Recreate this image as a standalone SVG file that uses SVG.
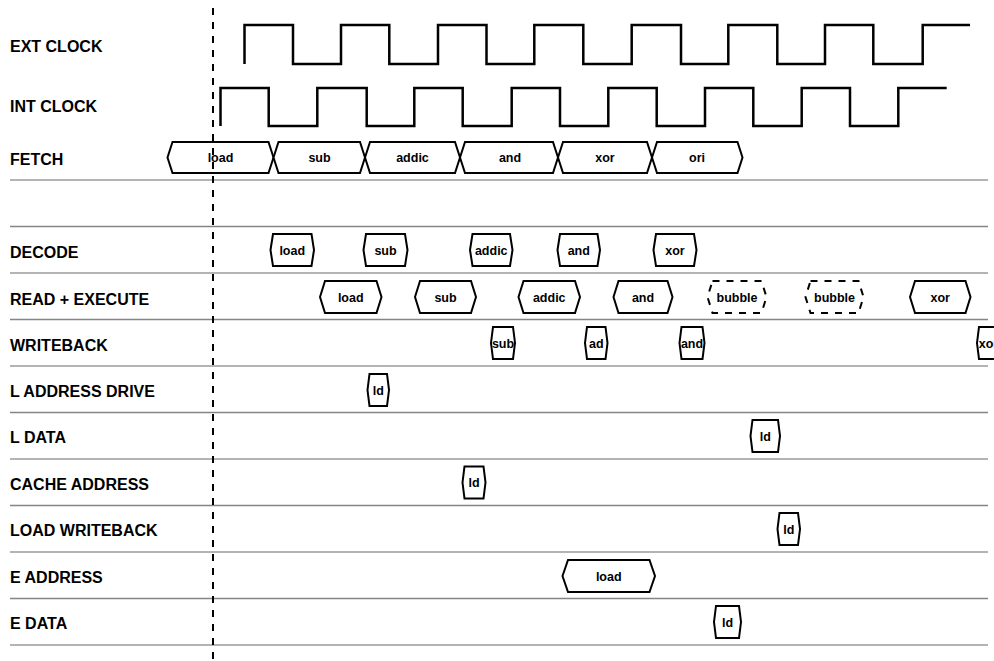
<svg xmlns="http://www.w3.org/2000/svg" width="994" height="661" viewBox="0 0 994 661">
<style>
.lbl{font-family:"Liberation Sans",Arial,sans-serif;font-weight:bold;font-size:16px;fill:#000}
.bt{font-family:"Liberation Sans",Arial,sans-serif;font-weight:bold;font-size:12.5px;fill:#000;text-anchor:middle}
.box{fill:#fff;stroke:#000;stroke-width:2;stroke-linejoin:miter}
.bub{fill:#fff;stroke:#000;stroke-width:2;stroke-dasharray:7 7}
.clk{fill:none;stroke:#000;stroke-width:2.5;stroke-linejoin:miter}
.sepL{stroke:#b4b4b4;stroke-width:2}
.sepD{stroke:#858585;stroke-width:1.5}
</style>
<rect width="994" height="661" fill="#fff"/>
<g id="separators">
<line class="sepL" x1="10" y1="180" x2="988" y2="180"/>
<line class="sepD" x1="10" y1="226.5" x2="988" y2="226.5"/>
<line class="sepL" x1="10" y1="273" x2="988" y2="273"/>
<line class="sepD" x1="10" y1="319.5" x2="988" y2="319.5"/>
<line class="sepL" x1="10" y1="366" x2="988" y2="366"/>
<line class="sepD" x1="10" y1="412.5" x2="988" y2="412.5"/>
<line class="sepL" x1="10" y1="459" x2="988" y2="459"/>
<line class="sepD" x1="10" y1="505.5" x2="988" y2="505.5"/>
<line class="sepL" x1="10" y1="552" x2="988" y2="552"/>
<line class="sepD" x1="10" y1="598.5" x2="988" y2="598.5"/>
<line class="sepL" x1="10" y1="645" x2="988" y2="645"/>
</g>
<g id="labels">
<text class="lbl" x="10" y="51.5">EXT CLOCK</text>
<text class="lbl" x="10" y="111.5">INT CLOCK</text>
<text class="lbl" x="10" y="165">FETCH</text>
<text class="lbl" x="10" y="257.5">DECODE</text>
<text class="lbl" x="10" y="304.5">READ + EXECUTE</text>
<text class="lbl" x="10" y="350.5">WRITEBACK</text>
<text class="lbl" x="10" y="397">L ADDRESS DRIVE</text>
<text class="lbl" x="10" y="443">L DATA</text>
<text class="lbl" x="10" y="489.5">CACHE ADDRESS</text>
<text class="lbl" x="10" y="536">LOAD WRITEBACK</text>
<text class="lbl" x="10" y="582.5">E ADDRESS</text>
<text class="lbl" x="10" y="629">E DATA</text>
</g>
<g id="clocks">
<path id="ext-clock" class="clk" d="M244.5,64 V25 H293 V64 H341 V25 H389.3 V64 H438 V25 H486.5 V64 H534.3 V25 H583.3 V64 H631.7 V25 H681 V64 H728.3 V25 H777.3 V64 H825 V25 H873.3 V64 H922.7 V25 H970"/>
<path id="int-clock" class="clk" d="M220.5,126 V88 H268.7 V126 H317.3 V88 H366.7 V126 H414.3 V88 H462.7 V126 H511.7 V88 H560 V126 H608.3 V88 H656.7 V126 H705 V88 H753.3 V126 H801.7 V88 H850 V126 H898.3 V88 H946.7"/>
</g>
<g id="fetch">
<g id="f-load"><polygon class="box" points="167.5,157.5 172.5,142 268.5,142 273.5,157.5 268.5,173 172.5,173"/><text class="bt" x="220.5" y="162">load</text></g>
<g id="f-sub"><polygon class="box" points="273.5,157.5 278.5,142 360,142 365,157.5 360,173 278.5,173"/><text class="bt" x="319.5" y="162">sub</text></g>
<g id="f-addic"><polygon class="box" points="365,157.5 370,142 455,142 460,157.5 455,173 370,173"/><text class="bt" x="412.5" y="162">addic</text></g>
<g id="f-and"><polygon class="box" points="460,157.5 465,142 553,142 558,157.5 553,173 465,173"/><text class="bt" x="510" y="162">and</text></g>
<g id="f-xor"><polygon class="box" points="558,157.5 563,142 647,142 652,157.5 647,173 563,173"/><text class="bt" x="605" y="162">xor</text></g>
<g id="f-ori"><polygon class="box" points="652,157.5 657,142 737.5,142 742.5,157.5 737.5,173 657,173"/><text class="bt" x="697" y="162">ori</text></g>
</g>
<g id="decode">
<g id="d-load"><polygon class="box" points="270.5,250 273,234 311.5,234 314,250 311.5,266 273,266"/><text class="bt" x="292.25" y="254.5">load</text></g>
<g id="d-sub"><polygon class="box" points="363.5,250 366,234 405,234 407.5,250 405,266 366,266"/><text class="bt" x="385.5" y="254.5">sub</text></g>
<g id="d-addic"><polygon class="box" points="470,250 472.5,234 510,234 512.5,250 510,266 472.5,266"/><text class="bt" x="491.25" y="254.5">addic</text></g>
<g id="d-and"><polygon class="box" points="557.5,250 560,234 597.5,234 600,250 597.5,266 560,266"/><text class="bt" x="578.75" y="254.5">and</text></g>
<g id="d-xor"><polygon class="box" points="653.5,250 656,234 694,234 696.5,250 694,266 656,266"/><text class="bt" x="675" y="254.5">xor</text></g>
</g>
<g id="read-execute">
<g id="r-load"><polygon class="box" points="320,297 325,281 376.5,281 381.5,297 376.5,313 325,313"/><text class="bt" x="350.75" y="301.5">load</text></g>
<g id="r-sub"><polygon class="box" points="415,297 420,281 471,281 476,297 471,313 420,313"/><text class="bt" x="445.5" y="301.5">sub</text></g>
<g id="r-addic"><polygon class="box" points="518.5,297 523.5,281 575,281 580,297 575,313 523.5,313"/><text class="bt" x="549.25" y="301.5">addic</text></g>
<g id="r-and"><polygon class="box" points="613.5,297 618.5,281 667.5,281 672.5,297 667.5,313 618.5,313"/><text class="bt" x="643" y="301.5">and</text></g>
<g id="r-bubble1"><polygon class="bub" points="712.5,281 761.5,281 766.5,297 761.5,313 712.5,313 707.5,297"/><text class="bt" x="737" y="301.5">bubble</text></g>
<g id="r-bubble2"><polygon class="bub" points="810.5,281 858.5,281 863.5,297 858.5,313 810.5,313 805.5,297"/><text class="bt" x="834.5" y="301.5">bubble</text></g>
<g id="r-xor"><polygon class="box" points="910,297 915,281 965.5,281 970.5,297 965.5,313 915,313"/><text class="bt" x="940.25" y="301.5">xor</text></g>
</g>
<g id="writeback">
<g id="w-sub"><polygon class="box" points="491,343 493,327 513,327 515,343 513,359 493,359"/><text class="bt" x="503" y="347.5">sub</text></g>
<g id="w-ad"><polygon class="box" points="585,343 587,327 605.5,327 607.5,343 605.5,359 587,359"/><text class="bt" x="596.25" y="347.5">ad</text></g>
<g id="w-and"><polygon class="box" points="679.5,343 681.5,327 702.5,327 704.5,343 702.5,359 681.5,359"/><text class="bt" x="692" y="347.5">and</text></g>
<g id="w-xor"><polygon class="box" points="977,343 979,327 1001,327 1003,343 1001,359 979,359"/><text class="bt" x="988.5" y="347.5">xor</text></g>
</g>
<g id="l-address-drive"><polygon class="box" points="367.5,390 369.5,374 387,374 389,390 387,406 369.5,406"/><text class="bt" x="378.25" y="394.5">ld</text></g>
<g id="l-data"><polygon class="box" points="750.5,436 752.5,420 778,420 780,436 778,452 752.5,452"/><text class="bt" x="765.25" y="440.5">ld</text></g>
<g id="cache-address"><polygon class="box" points="462.5,482.5 464.5,466.5 483.5,466.5 485.5,482.5 483.5,498.5 464.5,498.5"/><text class="bt" x="474" y="487">ld</text></g>
<g id="load-writeback"><polygon class="box" points="777.5,529 779.5,513 798,513 800,529 798,545 779.5,545"/><text class="bt" x="788.75" y="533.5">ld</text></g>
<g id="e-address"><polygon class="box" points="562.5,576 568,560 649.5,560 655,576 649.5,592 568,592"/><text class="bt" x="608.75" y="580.5">load</text></g>
<g id="e-data"><polygon class="box" points="714,622 716,606 739,606 741,622 739,638 716,638"/><text class="bt" x="727.5" y="626.5">ld</text></g>
<g id="connectors">
<line id="time-marker" x1="213" y1="8" x2="213" y2="661" stroke="#000" stroke-width="2" stroke-dasharray="7 7"/>
</g>
</svg>
